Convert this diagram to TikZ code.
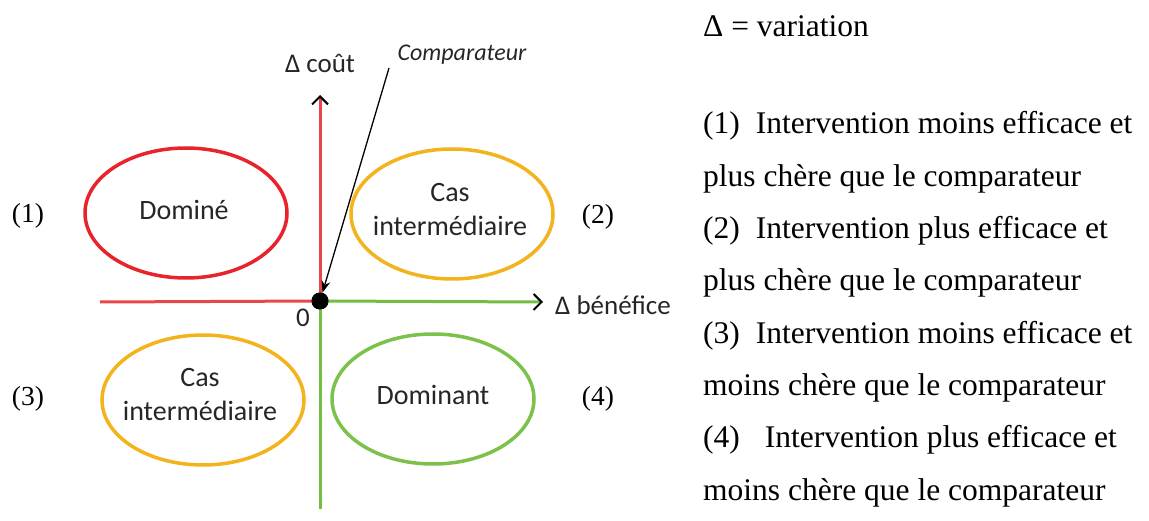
\documentclass[tikz,border=0pt]{standalone}
\usepackage{fontspec}
\setmainfont{Liberation Serif}
\newfontfamily\carl{Carlito}
\usetikzlibrary{arrows.meta,shapes.geometric}

\definecolor{domred}{HTML}{E8232B}
\definecolor{midorange}{HTML}{F2B31C}
\definecolor{domgreen}{HTML}{7CC14A}
\definecolor{axred}{HTML}{E8474A}
\definecolor{axgreen}{HTML}{74BD43}

\tikzset{
  zone/.style={ellipse, draw, line width=3.5pt, minimum width=202pt, minimum height=130pt,
    inner sep=0pt},
  zonetext/.style={align=center, text=black!85, inner sep=0pt,
    font=\carl\fontsize{28}{34}\selectfont},
  axisline/.style={line width=3pt},
  axtip/.style={-{Straight Barb[black, length=8pt, width=16pt, line width=2pt]}},
  quadnum/.style={font=\fontsize{27.5}{30}\selectfont},
  legend/.style={anchor=base west, inner sep=0pt, font=\fontsize{31.5}{36}\selectfont},
  axlabel/.style={font=\carl\fontsize{27}{30}\selectfont, text=black!85, inner sep=0pt}
}

\begin{document}
\begin{tikzpicture}[x=1pt, y=-1pt]
  \useasboundingbox (0,0) rectangle (1149,521);

  % axes
  \coordinate (ytop) at (320,95);
  \coordinate (ybot) at (320,509);
  \coordinate (xleft) at (100,302);
  \coordinate (xright) at (543,302);
  \node[circle, fill=black, minimum size=17pt, inner sep=0pt] (O) at (320,301) {};

  \draw[axisline, axred, axtip] (O.center) -- (ytop);
  \draw[axisline, axred] (xleft) -- (O.center);
  \draw[axisline, axgreen, axtip] (O.center) -- (xright);
  \draw[axisline, axgreen] (O.center) -- (ybot);
  \node[circle, fill=black, minimum size=17pt, inner sep=0pt] at (O) {};

  % axis labels
  \node[axlabel] (cout) at (320,63) {Δ coût};
  \node[axlabel, anchor=west] (benef) at (555,305) {Δ bénéfice};
  \node[axlabel] (zero) at (303,318) {0};

  % comparator pointer
  \node[axlabel, font=\carl\itshape\fontsize{24}{28}\selectfont] (cmp) at (462,55) {Comparateur};
  \coordinate (cmpstart) at (389,68);
  \draw[line width=1.3pt, -{Stealth[length=12pt, width=9pt]}] (cmpstart) -- (O);

  % quadrants
  \node[zone, draw=domred] (q1) at (186,213) {};
  \node[zone, draw=midorange] (q2) at (452,214) {};
  \node[zone, draw=midorange] (q3) at (203,400) {};
  \node[zone, draw=domgreen] (q4) at (433,399) {};

  \node[zonetext] (t1) at (184,210) {Dominé};
  \node[zonetext] (t2) at (450,210) {Cas\\intermédiaire};
  \node[zonetext] (t3) at (200,395) {Cas\\intermédiaire};
  \node[zonetext] (t4) at (433,395) {Dominant};

  \node[quadnum] (n1) at (28,216) {(1)};
  \node[quadnum] (n2) at (598,217) {(2)};
  \node[quadnum] (n3) at (28,399) {(3)};
  \node[quadnum] (n4) at (598,399) {(4)};

  % legend
  \node[legend] (l0) at (703,37) {Δ = variation};
  \node[legend] (l1) at (703,134) {(1)\hspace{16pt}Intervention moins efficace et};
  \node[legend] (l2) at (703,186.3) {plus chère que le comparateur};
  \node[legend] (l3) at (703,238.6) {(2)\hspace{16pt}Intervention plus efficace et};
  \node[legend] (l4) at (703,290.9) {plus chère que le comparateur};
  \node[legend] (l5) at (703,343.2) {(3)\hspace{16pt}Intervention moins efficace et};
  \node[legend] (l6) at (703,395.5) {moins chère que le comparateur};
  \node[legend] (l7) at (703,447.8) {(4)\hspace{25pt}Intervention plus efficace et};
  \node[legend] (l8) at (703,500.1) {moins chère que le comparateur};
\end{tikzpicture}
\end{document}
